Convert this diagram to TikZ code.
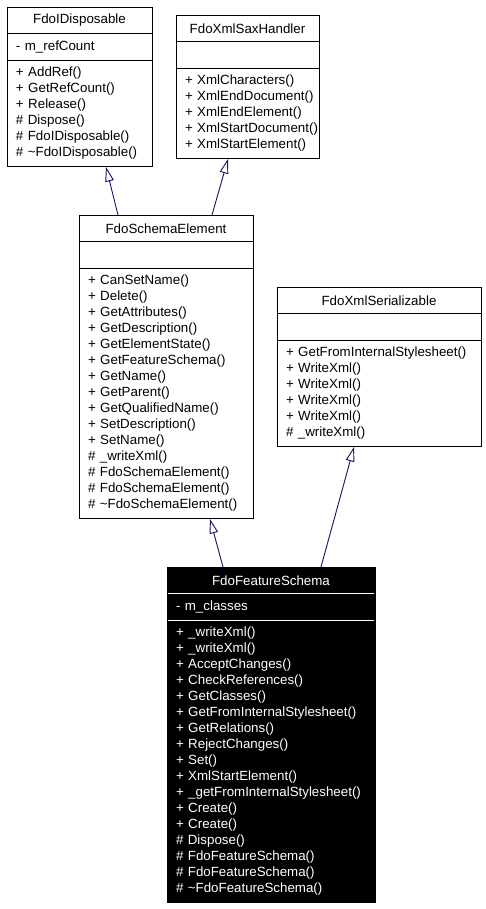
\documentclass[tikz,border=0pt]{standalone}
\usepackage{fontspec}
\setmainfont{Liberation Sans}
\usepackage{tikz}
\usetikzlibrary{arrows.meta}
\usetikzlibrary{calc}
\usetikzlibrary{positioning}
\definecolor{edgeblue}{RGB}{25,25,112}
\hyphenpenalty=10000
\exhyphenpenalty=10000

\begin{document}
\begin{tikzpicture}[x=0.75pt,y=-0.75pt,node distance=0pt,line width=0.7pt]
	\tikzset{
		C/.style={draw,fill=white,outer sep=0pt,inner xsep=6.75pt,text width=#1,font=\fontsize{10}{12}\selectfont},
		H/.style={C=#1,align=center,minimum height=19.9pt,inner ysep=0pt},
		A/.style={C=#1,align=left,minimum height=19.9pt,inner ysep=0pt},
		M/.style={C=#1,align=left,inner ysep=5.4pt},
		dark/.style={fill=black,text=white},
		inherit/.style={edgeblue,-{Triangle[open,length=11pt,width=6.5pt]}},
	}
	\useasboundingbox (0,0) rectangle (485,909);
	
	% FdoIDisposable
	\node[H=95.25pt,anchor=north west] (idT) at (7,7) {FdoIDisposable};
	\node[A=95.25pt,below=of idT] (idA) {-~m\_refCount};
	\node[M=95.25pt,below=of idA] (idM) {
		+~AddRef()\\
		+~GetRefCount()\\
		+~Release()\\
		\#~Dispose()\\
		\#~FdoIDisposable()\\
		\#~\textasciitilde FdoIDisposable()
	};
	
	% FdoXmlSaxHandler
	\node[H=93.75pt,anchor=north west] (shT) at (176,15) {FdoXmlSaxHandler};
	\node[A=93.75pt,below=of shT] (shA) {};
	\node[M=93.75pt,below=of shA] (shM) {
		+~XmlCharacters()\\
		+~XmlEndDocument()\\
		+~XmlEndElement()\\
		+~XmlStartDocument()\\
		+~XmlStartElement()
	};
	
	% FdoSchemaElement
	\node[H=117pt,anchor=north west] (seT) at (79,215) {FdoSchemaElement};
	\node[A=117pt,below=of seT] (seA) {};
	\node[M=117pt,below=of seA] (seM) {
		+~CanSetName()\\
		+~Delete()\\
		+~GetAttributes()\\
		+~GetDescription()\\
		+~GetElementState()\\
		+~GetFeatureSchema()\\
		+~GetName()\\
		+~GetParent()\\
		+~GetQualifiedName()\\
		+~SetDescription()\\
		+~SetName()\\
		\#~\_writeXml()\\
		\#~FdoSchemaElement()\\
		\#~FdoSchemaElement()\\
		\#~\textasciitilde FdoSchemaElement()
	};
	
	% FdoXmlSerializable
	\node[H=139.5pt,anchor=north west] (xsT) at (277,287) {FdoXmlSerializable};
	\node[A=139.5pt,below=of xsT] (xsA) {};
	\node[M=139.5pt,below=of xsA] (xsM) {
		+~GetFromInternalStylesheet()\\
		+~WriteXml()\\
		+~WriteXml()\\
		+~WriteXml()\\
		+~WriteXml()\\
		\#~\_writeXml()
	};
	
	% FdoFeatureSchema
	\node[H=142.5pt,dark,anchor=north west] (fsT) at (167,567) {FdoFeatureSchema};
	\node[A=142.5pt,dark,below=of fsT] (fsA) {-~m\_classes};
	\node[M=142.5pt,dark,below=of fsA] (fsM) {
		+~\_writeXml()\\
		+~\_writeXml()\\
		+~AcceptChanges()\\
		+~CheckReferences()\\
		+~GetClasses()\\
		+~GetFromInternalStylesheet()\\
		+~GetRelations()\\
		+~RejectChanges()\\
		+~Set()\\
		+~XmlStartElement()\\
		+~\_getFromInternalStylesheet()\\
		+~Create()\\
		+~Create()\\
		\#~Dispose()\\
		\#~FdoFeatureSchema()\\
		\#~FdoFeatureSchema()\\
		\#~\textasciitilde FdoFeatureSchema()
	};
	\draw[white] ([xshift=0.75pt]fsT.south west) -- ([xshift=-0.75pt]fsT.south east);
	\draw[white] ([xshift=0.75pt]fsA.south west) -- ([xshift=-0.75pt]fsA.south east);
	
	% inheritance
	\draw[inherit] ($(seT.north)+(-48,0)$) -- ($(idM.south)+(26.5,0)$);
	\draw[inherit] ($(seT.north)+(46,0)$) -- ($(shM.south)+(-19.5,0)$);
	\draw[inherit] ($(fsT.north)+(-48,0)$) -- ($(seM.south)+(44,0)$);
	\draw[inherit] ($(fsT.north)+(50,0)$) -- ($(xsM.south)+(-25,0)$);
\end{tikzpicture}
\end{document}
